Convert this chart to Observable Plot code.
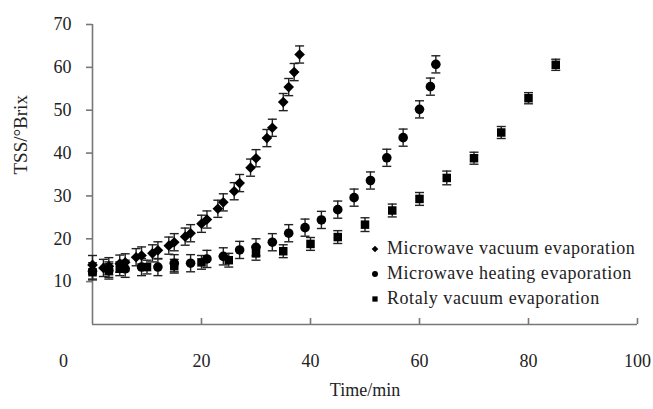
<!DOCTYPE html>
<html><head><meta charset="utf-8">
<script src="https://cdn.jsdelivr.net/npm/d3@7"></script>
<script src="https://cdn.jsdelivr.net/npm/@observablehq/plot@0.6"></script>
<style>
body{margin:0;background:#fff}
#wrap{position:relative;width:653px;height:409px;font-family:"Liberation Serif",serif}
#legend{position:absolute;left:369px;top:236px;font-size:18px;color:#222;line-height:25px;letter-spacing:0.55px}
#legend div{display:flex;align-items:center;white-space:nowrap}
#legend svg{margin-right:6px}
</style></head><body><div id="wrap"><div id="chart"></div><div id="legend"></div></div>
<script>
// Microwave vacuum evaporation (diamonds)
const mvTime = [0, 2, 3, 5, 6, 8, 9, 11, 12, 14, 15, 17, 18, 20, 21, 23, 24, 26, 27, 29, 30, 32, 33, 35, 36, 37, 38];
const mvTSS  = [13.9, 13.2, 13.6, 14.2, 14.5, 15.7, 16.1, 16.6, 17.3, 18.4, 19.2, 20.5, 21.3, 23.5, 24.5, 27.0, 28.5, 31.1, 33.0, 36.6, 38.8, 43.5, 45.9, 51.9, 55.4, 58.9, 63.0];
const mvErr  = [2.2, 2.0, 2.0, 2.0, 2.0, 2.0, 2.0, 2.0, 2.0, 2.0, 2.0, 2.0, 2.0, 2.0, 2.0, 2.0, 2.0, 2.0, 2.0, 2.0, 2.0, 2.0, 2.0, 2.0, 2.0, 2.0, 2.0];
// Microwave heating evaporation (circles)
const mhTime = [0, 3, 6, 9, 12, 15, 18, 21, 24, 27, 30, 33, 36, 39, 42, 45, 48, 51, 54, 57, 60, 62, 63];
const mhTSS  = [12.4, 12.6, 13.0, 13.4, 13.4, 14.3, 14.3, 15.3, 15.9, 17.4, 18.0, 19.2, 21.3, 22.6, 24.4, 26.8, 29.6, 33.6, 38.9, 43.6, 50.2, 55.5, 60.7];
const mhErr  = [2.0, 2.0, 2.0, 2.0, 2.0, 2.0, 2.0, 2.0, 2.0, 2.0, 2.0, 2.0, 2.0, 2.0, 2.0, 2.0, 2.0, 2.0, 2.0, 2.0, 2.0, 2.0, 2.0];
// Rotaly vacuum evaporation (squares)
const rvTime = [0, 3, 5, 10, 15, 20, 25, 30, 35, 40, 45, 50, 55, 60, 65, 70, 75, 80, 85];
const rvTSS  = [12.2, 12.6, 13.0, 13.4, 13.6, 14.5, 15.0, 16.6, 17.1, 18.8, 20.4, 23.3, 26.6, 29.3, 34.2, 38.8, 44.8, 52.8, 60.6];
const rvErr  = [1.6, 1.6, 1.6, 1.6, 1.6, 1.6, 1.6, 1.6, 1.5, 1.5, 1.5, 1.6, 1.5, 1.5, 1.6, 1.4, 1.4, 1.3, 1.3];

const seriesNames = ["Microwave vacuum evaporation", "Microwave heating evaporation", "Rotaly vacuum evaporation"];
const seriesSymbols = ["diamond2", "circle", "square"];
const xTicks = [20, 40, 60, 80, 100];
const yTicks = [10, 20, 30, 40, 50, 60, 70];
const xLabel = "Time/min";
const yLabel = "TSS/°Brix";

const rows = [];
[[mvTime, mvTSS, mvErr], [mhTime, mhTSS, mhErr], [rvTime, rvTSS, rvErr]].forEach(([t, v, e], s) => {
  t.forEach((ti, i) => rows.push({series: seriesNames[s], symbol: seriesSymbols[s], t: ti, v: v[i], e: e[i]}));
});

const cap = {draw(ctx) { ctx.moveTo(-4.5, 0); ctx.lineTo(4.5, 0); }};
const font = "Liberation Serif, serif";
const axisColor = "#777";
const textColor = "#222";

const chart = Plot.plot({
  width: 653, height: 409,
  marginLeft: 92, marginRight: 16, marginTop: 24, marginBottom: 85,
  style: {fontFamily: font, fontSize: "18px", color: textColor, background: "#fff"},
  x: {domain: [0, 100]},
  y: {domain: [0, 70]},
  symbol: {domain: seriesSymbols, range: ["diamond2", "circle", "square"]},
  marks: [
    Plot.ruleY([0], {stroke: axisColor, strokeWidth: 1.6}),
    Plot.ruleX([0], {stroke: axisColor, strokeWidth: 1.6}),
    Plot.axisY({ticks: yTicks, tickSize: 6, tickPadding: 15, stroke: axisColor, strokeWidth: 1.6, fill: textColor, fontSize: 18, label: null}),
    Plot.axisX({ticks: xTicks, tickSize: 6, dy: -6, stroke: axisColor, strokeWidth: 1.6, tickFormat: () => "", label: null}),
    Plot.axisX({ticks: xTicks, tickSize: 0, tickPadding: 30, fill: textColor, fontSize: 18, label: null}),
    Plot.axisX({ticks: [0], tickSize: 0, tickPadding: 30, dx: -29, fill: textColor, fontSize: 18, label: null}),
    Plot.text([yLabel], {frameAnchor: "left", dx: -72, rotate: -90, fontSize: 19, fill: textColor, fontFamily: font}),
    Plot.text([xLabel], {frameAnchor: "bottom", dy: 71, fontSize: 18, fill: textColor, fontFamily: font}),
    Plot.ruleX(rows, {x: "t", y1: d => d.v - d.e, y2: d => d.v + d.e, stroke: "#222", strokeWidth: 1.4}),
    Plot.dot(rows, {x: "t", y: d => d.v - d.e, symbol: () => cap, stroke: "#222", strokeWidth: 1.4, fill: "none"}),
    Plot.dot(rows, {x: "t", y: d => d.v + d.e, symbol: () => cap, stroke: "#222", strokeWidth: 1.4, fill: "none"}),
    Plot.dot(rows, {x: "t", y: "v", symbol: "symbol", r: 4.8, fill: "#000", stroke: "none"})
  ]
});
document.getElementById("chart").appendChild(chart);

// legend
const legend = document.getElementById("legend");
const symMap = {diamond2: d3.symbolDiamond2, circle: d3.symbolCircle, square: d3.symbolSquare};
seriesNames.forEach((name, i) => {
  const row = document.createElement("div");
  const path = d3.symbol(symMap[seriesSymbols[i]], 28)();
  row.innerHTML = `<svg width="12" height="12" viewBox="-6 -6 12 12"><path d="${path}" fill="#000"/></svg><span>${name}</span>`;
  legend.appendChild(row);
});
</script></body></html>
